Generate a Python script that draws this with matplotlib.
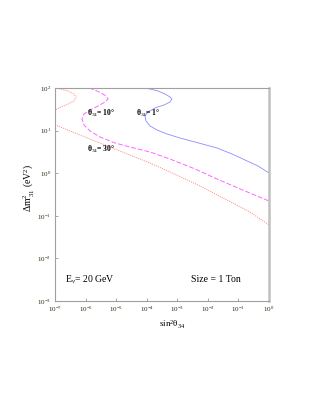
import matplotlib
matplotlib.use("Agg")
import matplotlib.pyplot as plt

# curves, as (log10 sin^2, log10 dm^2)
blue_x = [-4.121, -3.892, -3.631, -3.402, -3.238, -3.173, -3.238, -3.434, -3.729, -3.958, -4.056,
          -4.023, -3.892, -3.663, -3.336, -2.911, -2.420, -1.701, -1.210, -0.785, -0.359, 0.000]
blue_y = [2.000, 1.977, 1.930, 1.859, 1.789, 1.742, 1.671, 1.601, 1.531, 1.437, 1.343,
          1.225, 1.108, 1.014, 0.920, 0.826, 0.732, 0.592, 0.451, 0.310, 0.169, 0.005]

mag_x = [-5.888, -5.692, -5.495, -5.332, -5.266, -5.364, -5.593, -5.855, -6.051, -6.117, -6.051,
         -5.855, -5.528, -5.037, -4.547, -3.892, -3.238, -2.420, -1.701, -0.785, 0.000]
mag_y = [2.000, 1.953, 1.883, 1.812, 1.742, 1.671, 1.577, 1.484, 1.390, 1.272, 1.131,
         0.991, 0.850, 0.709, 0.615, 0.498, 0.333, 0.099, -0.136, -0.418, -0.653]

red_top_x = [-7.065, -6.836, -6.575, -6.378, -6.313, -6.378, -6.575, -6.804, -7.000, -7.098]
red_top_y = [2.023, 1.977, 1.930, 1.859, 1.789, 1.695, 1.624, 1.554, 1.484, 1.437]
red_low_x = [-7.065, -6.509, -5.855, -5.201, -4.547, -3.892, -3.238, -2.257, -1.373, -0.621, 0.000]
red_low_y = [1.155, 0.991, 0.803, 0.615, 0.427, 0.239, 0.028, -0.300, -0.629, -0.911, -1.216]

xticks = [1e-7, 1e-6, 1e-5, 1e-4, 1e-3, 1e-2, 1e-1, 1e0]
xlabels = [r"10$^{-7}$", r"10$^{-6}$", r"10$^{-5}$", r"10$^{-4}$", r"10$^{-3}$", r"10$^{-2}$", r"10$^{-1}$", r"10$^{0}$"]
yticks = [1e-3, 1e-2, 1e-1, 1e0, 1e1, 1e2]
ylabels = [r"10$^{-3}$", r"10$^{-2}$", r"10$^{-1}$", r"10$^{0}$", r"10$^{1}$", r"10$^{2}$"]

plt.rcParams['font.family'] = ['Liberation Serif', 'DejaVu Serif']
plt.rcParams['mathtext.fontset'] = 'custom'
plt.rcParams['mathtext.rm'] = 'Liberation Serif'
plt.rcParams['mathtext.it'] = 'Liberation Serif:italic'
plt.rcParams['mathtext.bf'] = 'Liberation Serif:bold'

fig = plt.figure(figsize=(3.12, 4.03), dpi=100)
ax = fig.add_axes([55/312, 1-301/403, 214/312, 213/403])

def tolin(v):
    return [10**a for a in v]

ax.plot(tolin(blue_x), tolin(blue_y), color="#8c8cff", lw=0.6)
ax.plot(tolin(mag_x), tolin(mag_y), color="#ff66ff", lw=0.7, dashes=(5, 2))
ax.plot(tolin(red_top_x), tolin(red_top_y), color="#ff8080", lw=0.7, ls=(0, (1, 1.2)))
ax.plot(tolin(red_low_x), tolin(red_low_y), color="#ff8080", lw=0.7, ls=(0, (1, 1.2)))

ax.set_xscale("log")
ax.set_yscale("log")
ax.set_xlim(1e-7, 1)
ax.set_ylim(1e-3, 1e2)
ax.set_xticks(xticks)
ax.set_xticklabels(xlabels)
ax.set_yticks(yticks)
ax.set_yticklabels(ylabels)
ax.minorticks_off()
ax.tick_params(direction="in", length=2.5, width=0.6, color="#999999",
               labelsize=5, labelcolor="#2a2a10", pad=3)

for s in ["left", "bottom", "top"]:
    ax.spines[s].set_color("#a0a0a0")
    ax.spines[s].set_linewidth(0.8)
ax.spines["right"].set_color("#c0c0c0")
ax.spines["right"].set_linewidth(1.8)

# curve labels
ax.text(3.3e-6, 10**1.41, "θ$_{34}$= 10°", fontsize=5.5, fontweight="bold", ha="center", va="center")
ax.text(1.1e-4, 10**1.40, "θ$_{34}$= 1°", fontsize=5.5, fontweight="bold", ha="center", va="center")
ax.text(3.3e-6, 10**0.55, "θ$_{34}$= 30°", fontsize=5.5, fontweight="bold", ha="center", va="center")
ax.text(1.4e-6, 10**-2.50, "E$_{\\nu}$= 20 GeV", fontsize=7, ha="center", va="center")
ax.text(0.018, 10**-2.50, "Size = 1 Ton", fontsize=7, ha="center", va="center")

fig.text(172/312, 1-325/403, "sin$^2$θ$_{34}$", fontsize=6.5, ha="center", va="center")
fig.text(29/312, 1-188/403, "Δm$^2_{\\ 31}$ (eV$^2$)", fontsize=7, rotation=90, ha="center", va="center")

fig.savefig("out.png", dpi=100)
